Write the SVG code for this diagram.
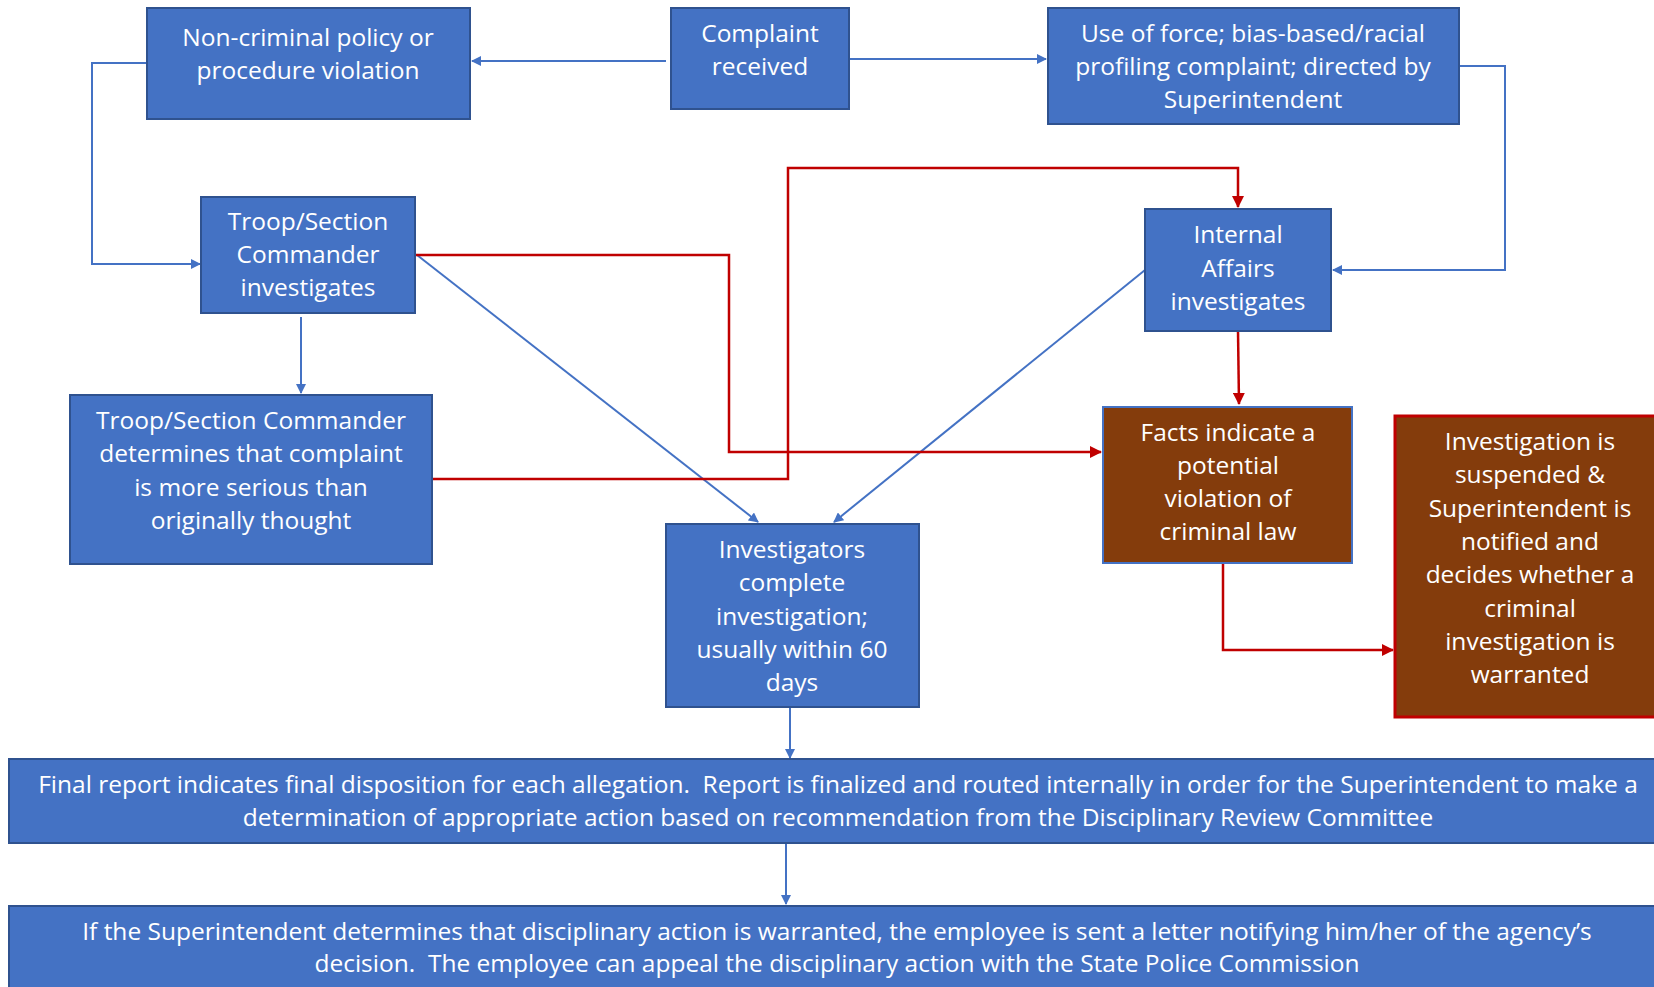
<svg xmlns="http://www.w3.org/2000/svg" width="1654" height="987" viewBox="0 0 1654 987">
<style>
.b{fill:#4472C4;stroke:#2F528F;stroke-width:2}
.br{fill:#843C0C;stroke:#4472C4;stroke-width:2}
.bs{fill:#843C0C;stroke:#C00000;stroke-width:3}
.t{font-family:"Open Sans","Noto Sans",sans-serif;font-size:24.5px;fill:#fff;text-anchor:middle;white-space:pre}
.cb{fill:none;stroke:#4472C4;stroke-width:2}
.cr{fill:none;stroke:#C00000;stroke-width:2.5}
</style>
<defs>
<marker id="ab" markerWidth="10" markerHeight="10" refX="9" refY="5" orient="auto" markerUnits="userSpaceOnUse" viewBox="0 0 10 10"><path d="M0,0 L10,5 L0,10 z" fill="#4472C4"/></marker>
<marker id="ar" markerWidth="12" markerHeight="12" refX="11" refY="6" orient="auto" markerUnits="userSpaceOnUse" viewBox="0 0 12 12"><path d="M0,0 L12,6 L0,12 z" fill="#C00000"/></marker>
</defs>
<rect width="1654" height="987" fill="#fff"/>
<g id="connectors">
<path class="cb" d="M666,61 H472" marker-end="url(#ab)"/>
<path class="cb" d="M849,59 H1046" marker-end="url(#ab)"/>
<path class="cb" d="M147,63 H92 V264 H200" marker-end="url(#ab)"/>
<path class="cb" d="M1459,66 H1505 V270 H1333" marker-end="url(#ab)"/>
<path class="cb" d="M301,317 V393" marker-end="url(#ab)"/>
<path class="cb" d="M417,255 L758,522" marker-end="url(#ab)"/>
<path class="cb" d="M1145,270 L834,522" marker-end="url(#ab)"/>
<path class="cr" d="M415,255 H729 V452 H1101" marker-end="url(#ar)"/>
<path class="cr" d="M432,479 H788 V168 H1238 V207" marker-end="url(#ar)"/>
<path class="cr" d="M1238,331 L1239,404" marker-end="url(#ar)"/>
<path class="cr" d="M1223,563 V650 H1393" marker-end="url(#ar)"/>
<path class="cb" d="M790,707 V758" marker-end="url(#ab)"/>
<path class="cb" d="M786,843 V904" marker-end="url(#ab)"/>
</g>
<g id="n-noncriminal">
<rect class="b" x="147" y="8" width="323" height="111"/>
<text class="t" x="308" y="46">Non-criminal policy or</text>
<text class="t" x="308" y="79">procedure violation</text>
</g>
<g id="n-complaint">
<rect class="b" x="671" y="8" width="178" height="101"/>
<text class="t" x="760" y="42">Complaint</text>
<text class="t" x="760" y="75">received</text>
</g>
<g id="n-useofforce">
<rect class="b" x="1048" y="8" width="411" height="116"/>
<text class="t" x="1253" y="42">Use of force; bias-based/racial</text>
<text class="t" x="1253" y="75">profiling complaint; directed by</text>
<text class="t" x="1253" y="108">Superintendent</text>
</g>
<g id="n-troop">
<rect class="b" x="201" y="197" width="214" height="116"/>
<text class="t" x="308" y="230">Troop/Section</text>
<text class="t" x="308" y="263">Commander</text>
<text class="t" x="308" y="296">investigates</text>
</g>
<g id="n-ia">
<rect class="b" x="1145" y="209" width="186" height="122"/>
<text class="t" x="1238" y="243">Internal</text>
<text class="t" x="1238" y="277">Affairs</text>
<text class="t" x="1238" y="310">investigates</text>
</g>
<g id="n-determines">
<rect class="b" x="70" y="395" width="362" height="169"/>
<text class="t" x="251" y="429">Troop/Section Commander</text>
<text class="t" x="251" y="462">determines that complaint</text>
<text class="t" x="251" y="496">is more serious than</text>
<text class="t" x="251" y="529">originally thought</text>
</g>
<g id="n-investigators">
<rect class="b" x="666" y="524" width="253" height="183"/>
<text class="t" x="792" y="558">Investigators</text>
<text class="t" x="792" y="591">complete</text>
<text class="t" x="792" y="625">investigation;</text>
<text class="t" x="792" y="658">usually within 60</text>
<text class="t" x="792" y="691">days</text>
</g>
<g id="n-facts">
<rect class="br" x="1103" y="407" width="249" height="156"/>
<text class="t" x="1228" y="441">Facts indicate a</text>
<text class="t" x="1228" y="474">potential</text>
<text class="t" x="1228" y="507">violation of</text>
<text class="t" x="1228" y="540">criminal law</text>
</g>
<g id="n-suspended">
<rect class="bs" x="1395" y="416" width="270" height="301"/>
<text class="t" x="1530" y="450">Investigation is</text>
<text class="t" x="1530" y="483">suspended &amp;</text>
<text class="t" x="1530" y="517">Superintendent is</text>
<text class="t" x="1530" y="550">notified and</text>
<text class="t" x="1530" y="583">decides whether a</text>
<text class="t" x="1530" y="617">criminal</text>
<text class="t" x="1530" y="650">investigation is</text>
<text class="t" x="1530" y="683">warranted</text>
</g>
<g id="n-final">
<rect class="b" x="9" y="759" width="1660" height="84"/>
<text class="t" x="838" y="793">Final report indicates final disposition for each allegation.  Report is finalized and routed internally in order for the Superintendent to make a</text>
<text class="t" x="838" y="826">determination of appropriate action based on recommendation from the Disciplinary Review Committee</text>
</g>
<g id="n-letter">
<rect class="b" x="9" y="906" width="1660" height="100"/>
<text class="t" x="837" y="940">If the Superintendent determines that disciplinary action is warranted, the employee is sent a letter notifying him/her of the agency’s</text>
<text class="t" x="837" y="972">decision.  The employee can appeal the disciplinary action with the State Police Commission</text>
</g>
</svg>
